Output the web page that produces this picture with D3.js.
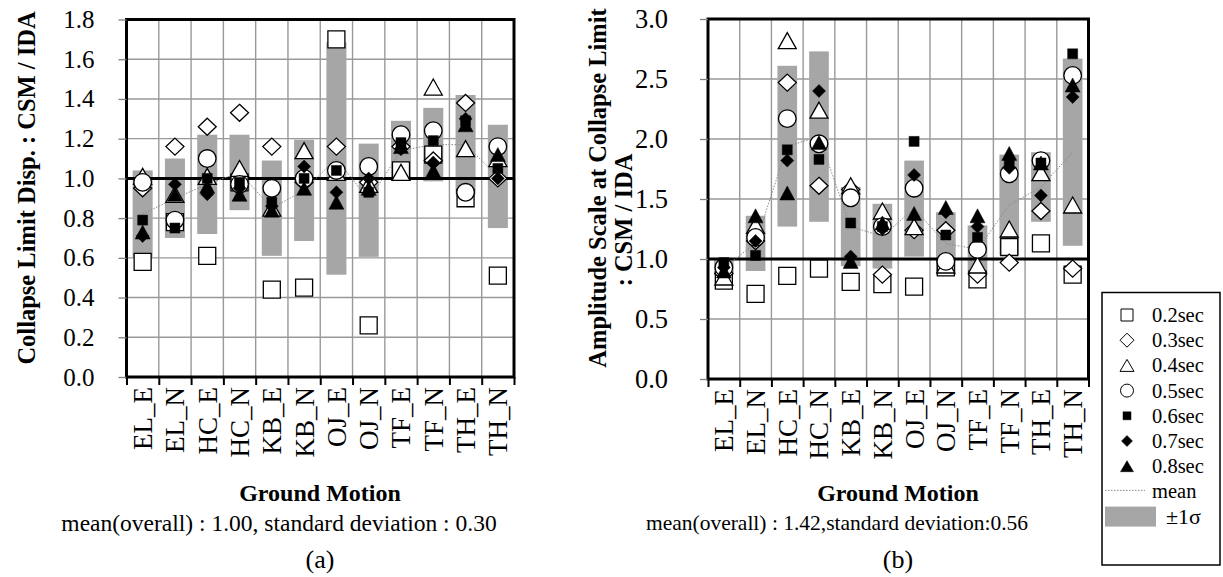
<!DOCTYPE html>
<html><head><meta charset="utf-8">
<script src="https://cdn.jsdelivr.net/npm/d3@7"></script>
<style>
body{margin:0;background:#fff}
svg{display:block}
text{font-family:"Liberation Serif","Times New Roman",serif;fill:#000}
</style>
</head><body>
<svg id="c" width="1223" height="577"></svg>
<script>
// ---------- data ----------
const categories = ["EL_E","EL_N","HC_E","HC_N","KB_E","KB_N","OJ_E","OJ_N","TF_E","TF_N","TH_E","TH_N"];
const periods = ["0.2sec","0.3sec","0.4sec","0.5sec","0.6sec","0.7sec","0.8sec"];

// (a) Collapse limit displacement ratio CSM / IDA
const dispT02 = [0.58, 0.78, 0.61, 0.98, 0.44, 0.45, 1.70, 0.26, 1.04, 1.12, 0.90, 0.51];
const dispT03 = [0.95, 1.16, 1.26, 1.33, 1.16, 0.98, 1.16, 0.98, 1.16, 1.09, 1.38, 1.00];
const dispT04 = [1.01, 0.92, 1.01, 1.05, 0.85, 1.14, 1.03, 0.97, 1.03, 1.46, 1.15, 1.10];
const dispT05 = [0.98, 0.79, 1.10, 0.97, 0.95, 1.00, 1.04, 1.06, 1.22, 1.24, 0.93, 1.16];
const dispT06 = [0.79, 0.75, 1.00, 0.98, 0.88, 1.00, 1.04, 0.93, 1.18, 1.19, 1.29, 1.05];
const dispT07 = [0.71, 0.97, 0.92, 0.95, 0.86, 1.06, 0.93, 1.00, 1.15, 1.08, 1.30, 1.00];
const dispT08 = [0.73, 0.92, 0.96, 0.92, 0.84, 0.95, 0.88, 0.95, 1.16, 1.04, 1.27, 1.12];
const dispMean = [0.82, 0.90, 0.97, 1.03, 0.85, 0.94, 1.10, 0.89, 1.14, 1.17, 1.17, 1.01];
const dispSd   = [0.22, 0.20, 0.25, 0.19, 0.24, 0.255, 0.585, 0.285, 0.15, 0.185, 0.25, 0.26];

// (b) Amplitude scale at collapse limit CSM / IDA
const ampT02 = [0.82, 0.71, 0.86, 0.92, 0.81, 0.79, 0.77, 0.93, 0.83, 1.10, 1.13, 0.87];
const ampT03 = [0.88, 1.15, 2.47, 1.61, 1.58, 0.87, 1.24, 1.24, 0.87, 0.97, 1.40, 0.92];
const ampT04 = [0.85, 1.28, 2.82, 2.24, 1.61, 1.40, 1.27, 0.95, 0.95, 1.25, 1.72, 1.45];
const ampT05 = [0.93, 1.18, 2.17, 1.96, 1.51, 1.27, 1.59, 0.98, 1.08, 1.71, 1.82, 2.53];
const ampT06 = [0.97, 1.03, 1.91, 1.83, 1.30, 1.27, 1.98, 1.20, 1.18, 1.80, 1.80, 2.71];
const ampT07 = [0.93, 1.15, 1.82, 2.40, 1.02, 1.25, 1.70, 1.39, 1.27, 1.76, 1.53, 2.35];
const ampT08 = [0.90, 1.36, 1.55, 1.97, 0.98, 1.30, 1.38, 1.43, 1.36, 1.88, 1.80, 2.45];
const ampMean = [0.93, 1.13, 1.94, 2.02, 1.27, 1.19, 1.42, 1.13, 1.08, 1.45, 1.60, 1.89];
const ampSd   = [0.06, 0.23, 0.67, 0.71, 0.33, 0.27, 0.40, 0.26, 0.20, 0.42, 0.29, 0.78];

const ticksA = [0,0.2,0.4,0.6,0.8,1.0,1.2,1.4,1.6,1.8];
const ticksB = [0,0.5,1.0,1.5,2.0,2.5,3.0];

// ---------- styles ----------
const markerStyles = [
  {shape:"square",   fill:"#fff", s:17},
  {shape:"diamond",  fill:"#fff", w:9, h:8.5},
  {shape:"triangle", fill:"#fff", w:18, h:16},
  {shape:"circle",   fill:"#fff", r:8.8},
  {shape:"square",   fill:"#000", s:10},
  {shape:"diamond",  fill:"#000", w:6.5, h:6.5},
  {shape:"triangle", fill:"#000", w:15, h:14}
];
const legendStyles = [
  {shape:"square",   fill:"#fff", s:12},
  {shape:"diamond",  fill:"#fff", w:7, h:7},
  {shape:"triangle", fill:"#fff", w:14, h:12},
  {shape:"circle",   fill:"#fff", r:6.5},
  {shape:"square",   fill:"#000", s:8},
  {shape:"diamond",  fill:"#000", w:5.5, h:5.5},
  {shape:"triangle", fill:"#000", w:13, h:11}
];

function markerPath(st){
  if(st.shape==="square"){const h=st.s/2;return `M${-h},${-h}H${h}V${h}H${-h}Z`;}
  if(st.shape==="diamond"){return `M0,${-st.h}L${st.w},0L0,${st.h}L${-st.w},0Z`;}
  if(st.shape==="triangle"){return `M0,${-st.h/2}L${st.w/2},${st.h/2}L${-st.w/2},${st.h/2}Z`;}
  if(st.shape==="circle"){const r=st.r;return `M${-r},0A${r},${r} 0 1,0 ${r},0A${r},${r} 0 1,0 ${-r},0Z`;}
}

const svg = d3.select("#c");

function drawPanel(cfg){
  const g = svg.append("g");
  const x = d3.scaleLinear().domain([0, categories.length]).range([cfg.x0, cfg.x1]);
  const band = d3.scaleBand().domain(categories).range([cfg.x0, cfg.x1]);
  const y = d3.scaleLinear().domain([0, cfg.max]).range([cfg.yBottom, cfg.yTop]);

  // gridlines
  g.append("g").selectAll("line.h").data(cfg.ticks).join("line")
    .attr("x1", cfg.x0).attr("x2", cfg.x1)
    .attr("y1", d=>y(d)).attr("y2", d=>y(d))
    .attr("stroke","#999").attr("stroke-width",1.4);
  g.append("g").selectAll("line.v").data(d3.range(1, categories.length)).join("line")
    .attr("x1", d=>x(d)).attr("x2", d=>x(d))
    .attr("y1", cfg.yTop).attr("y2", cfg.yBottom)
    .attr("stroke","#999").attr("stroke-width",1.4);

  // ±1σ bars
  const bw = band.bandwidth()*0.62;
  g.append("g").selectAll("rect").data(categories).join("rect")
    .attr("x", d=>band(d)+band.bandwidth()/2-bw/2)
    .attr("width", bw)
    .attr("y", (d,i)=>y(cfg.mean[i]+cfg.sd[i]))
    .attr("height", (d,i)=>y(cfg.mean[i]-cfg.sd[i])-y(cfg.mean[i]+cfg.sd[i]))
    .attr("fill","#a6a6a6");

  // reference line at 1.0
  g.append("line").attr("x1",cfg.x0).attr("x2",cfg.x1)
    .attr("y1",y(1)).attr("y2",y(1)).attr("stroke","#000").attr("stroke-width",3);

  // mean line
  g.append("path").datum(categories)
    .attr("d", d3.line().x(d=>band(d)+band.bandwidth()/2).y((d,i)=>y(cfg.mean[i])))
    .attr("fill","none").attr("stroke","#8a8a8a").attr("stroke-width",1)
    .attr("stroke-dasharray","1.5,1.5");

  // markers
  cfg.series.forEach((vals, si)=>{
    const st = markerStyles[si];
    g.append("g").selectAll("path").data(vals).join("path")
      .attr("transform",(v,i)=>`translate(${band(categories[i])+band.bandwidth()/2},${y(v)})`)
      .attr("d", markerPath(st))
      .attr("fill", st.fill)
      .attr("stroke","#000")
      .attr("stroke-width", st.fill==="#000"?0.5:1.3);
  });

  // frame
  g.append("rect").attr("x",cfg.x0).attr("y",cfg.yTop)
    .attr("width",cfg.x1-cfg.x0).attr("height",cfg.yBottom-cfg.yTop)
    .attr("fill","none").attr("stroke","#000").attr("stroke-width",3);

  // y axis
  const ya = g.append("g").attr("transform",`translate(${cfg.x0},0)`)
    .call(d3.axisLeft(y).tickValues(cfg.ticks).tickFormat(d3.format(".1f")).tickSize(8).tickPadding(cfg.tickPad));
  ya.select(".domain").remove();
  ya.selectAll(".tick line").attr("stroke","#808080").attr("stroke-width",1.3);
  ya.selectAll(".tick text").attr("font-size",cfg.tickFont).attr("font-family","Liberation Serif");

  // x axis ticks at category boundaries
  const xa = g.append("g").attr("transform",`translate(0,${cfg.yBottom})`)
    .call(d3.axisBottom(x).tickValues(d3.range(0, categories.length+1)).tickFormat("").tickSize(8));
  xa.select(".domain").remove();
  xa.selectAll(".tick line").attr("stroke","#000").attr("stroke-width",2);

  // x tick labels
  const xl = g.append("g").attr("transform",`translate(0,${cfg.yBottom})`)
    .call(d3.axisBottom(band).tickSize(0).tickPadding(0));
  xl.select(".domain").remove();
  xl.selectAll(".tick text")
    .attr("font-size","27px").attr("font-family","Liberation Serif")
    .attr("text-anchor","end")
    .attr("transform","rotate(-90)")
    .attr("x",-10).attr("y",0).attr("dy","0.35em");

  // axis titles and notes
  cfg.yTitle.forEach(t=>{
    g.append("text").attr("transform",`translate(${t.x},${t.y}) rotate(-90)`)
      .attr("text-anchor","middle").attr("dominant-baseline","central")
      .attr("font-size","24.5px").attr("font-weight","bold").text(t.text);
  });
  g.append("text").attr("x",cfg.xTitleX).attr("y",493).attr("text-anchor","middle")
    .attr("dominant-baseline","central").attr("font-size","24px").attr("font-weight","bold").text("Ground Motion");
  g.append("text").attr("x",cfg.noteX).attr("y",523).attr("text-anchor","middle")
    .attr("dominant-baseline","central").attr("font-size",cfg.noteFont).text(cfg.note);
  g.append("text").attr("x",cfg.xTitleX).attr("y",559).attr("text-anchor","middle")
    .attr("dominant-baseline","central").attr("font-size","26px").text(cfg.label);
}

drawPanel({
  x0:126.5, x1:514, yTop:19.5, yBottom:377, max:1.8, ticks:ticksA, tickPad:24, tickFont:"25px",
  series:[dispT02,dispT03,dispT04,dispT05,dispT06,dispT07,dispT08],
  mean:dispMean, sd:dispSd,
  yTitle:[{x:26, y:188, text:"Collapse Limit Disp. : CSM / IDA"}],
  xTitleX:320, noteX:279, noteFont:"23.5px",
  note:"mean(overall) : 1.00, standard deviation : 0.30", label:"(a)"
});
drawPanel({
  x0:708, x1:1088.5, yTop:19, yBottom:379, max:3.0, ticks:ticksB, tickPad:32, tickFont:"26.5px",
  series:[ampT02,ampT03,ampT04,ampT05,ampT06,ampT07,ampT08],
  mean:ampMean, sd:ampSd,
  yTitle:[{x:597, y:188, text:"Amplitude Scale at Collapse Limit"},{x:623, y:220, text:": CSM / IDA"}],
  xTitleX:898, noteX:837, noteFont:"21.5px",
  note:"mean(overall) : 1.42,standard deviation:0.56", label:"(b)"
});

// ---------- legend ----------
const lg = svg.append("g");
lg.append("rect").attr("x",1102).attr("y",292.5).attr("width",118).attr("height",272.5)
  .attr("fill","#fff").attr("stroke","#000").attr("stroke-width",1.5);
const rowY = d3.scaleLinear().domain([0,1]).range([315, 340.2]);
periods.forEach((p,i)=>{
  const st = legendStyles[i];
  lg.append("path").attr("transform",`translate(1127,${rowY(i)})`).attr("d",markerPath(st))
    .attr("fill",st.fill).attr("stroke","#000").attr("stroke-width",st.fill==="#000"?0.5:1);
  lg.append("text").attr("x",1152).attr("y",rowY(i)).attr("dominant-baseline","central")
    .attr("font-size","20.5px").text(p);
});
lg.append("line").attr("x1",1105).attr("x2",1145).attr("y1",rowY(7)-1).attr("y2",rowY(7)-1)
  .attr("stroke","#8a8a8a").attr("stroke-width",1).attr("stroke-dasharray","1.5,1.5");
lg.append("text").attr("x",1152).attr("y",rowY(7)).attr("dominant-baseline","central")
  .attr("font-size","20.5px").text("mean");
lg.append("rect").attr("x",1105).attr("y",rowY(8)-10).attr("width",51).attr("height",20).attr("fill","#a6a6a6");
lg.append("text").attr("x",1166).attr("y",rowY(8)).attr("dominant-baseline","central")
  .attr("font-size","22px").text("±1σ");
</script>
</body></html>
